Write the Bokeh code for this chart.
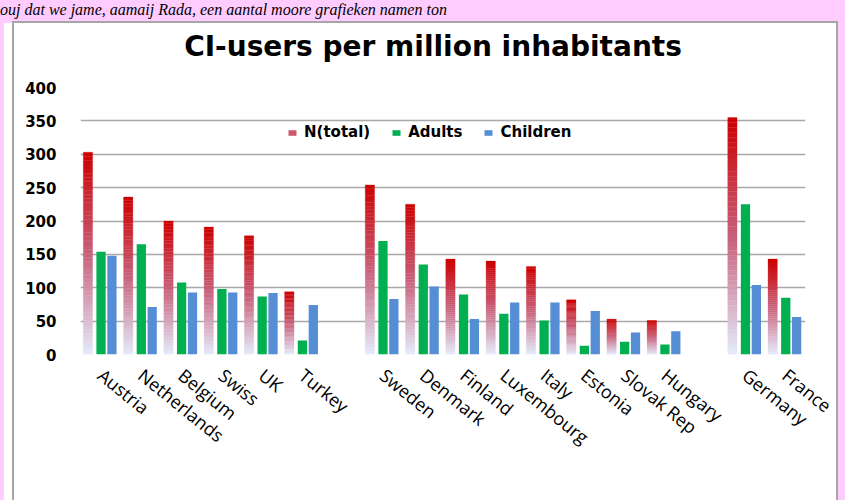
from bokeh.plotting import figure
from bokeh.models import (ColumnDataSource, FactorRange, FixedTicker, Legend,
                          LegendItem, Div)
from bokeh.layouts import column
from bokeh.transform import dodge
from bokeh.embed import file_html
from bokeh.resources import INLINE

# CI-users per million inhabitants, per country
countries = ["Austria", "Netherlands", "Belgium", "Swiss", "UK", "Turkey",
             "Sweden", "Denmark", "Finland", "Luxembourg", "Italy", "Estonia",
             "Slovak Rep", "Hungary", "Germany", "France"]
n_total = [303, 236, 200, 191, 178, 94,
           254, 225, 143, 140, 132, 82, 53, 51,
           355, 143]
adults = [154, 165, 108, 98, 87, 21,
          170, 135, 90, 61, 51, 13, 19, 15,
          225, 85]
children = [148, 71, 93, 93, 92, 74,
            83, 102, 53, 78, 78, 65, 33, 35,
            104, 56]

# three country blocks, separated by an empty slot
block_sizes = [6, 8, 2]
y_ticks = [0, 50, 100, 150, 200, 250, 300, 350, 400]
title_text = "CI-users per million inhabitants"

RED_TOP = (204, 0, 0)
RED_MID = (200, 96, 122)
RED_BOTTOM = (228, 236, 252)
GREEN = "#00B050"
BLUE = "#558ED5"
GRID = "#A9A9A9"

# category slots with spacer factors between the blocks
slots = []
start = 0
for b, size in enumerate(block_sizes):
    if b > 0:
        slots.append(" " * b)
    slots.extend(countries[start:start + size])
    start += size


def mix(c1, c2, t):
    return "#%02x%02x%02x" % tuple(int(round(a + (b - a) * t)) for a, b in zip(c1, c2))


def gradient_colour(t):
    # t = 0 at the top of the bar, 1 at the base
    if t < 0.5:
        return mix(RED_TOP, RED_MID, t / 0.5)
    return mix(RED_MID, RED_BOTTOM, (t - 0.5) / 0.5)


# N(total) bars are split into thin slices to get a vertical colour fade
N_SLICES = 48
sx, sb, st, sc = [], [], [], []
for c, v in zip(countries, n_total):
    for k in range(N_SLICES):
        sx.append(c)
        sb.append(v * k / N_SLICES)
        st.append(v * (k + 1) / N_SLICES)
        sc.append(gradient_colour(1 - (k + 0.5) / N_SLICES))
slice_src = ColumnDataSource(dict(x=sx, bottom=sb, top=st, color=sc))
bar_src = ColumnDataSource(dict(x=countries, adults=adults, children=children))

TITLE_H = 48
p = figure(x_range=FactorRange(factors=slots, range_padding=0),
           y_range=(0, 400), width=822, height=477 - TITLE_H,
           output_backend="svg", toolbar_location=None,
           min_border_left=66, min_border_right=31,
           min_border_top=64 - TITLE_H, min_border_bottom=146,
           background_fill_color="white", border_fill_color="white",
           outline_line_color=None, margin=0)

W = 0.23
p.vbar(x=dodge("x", -0.315, range=p.x_range), bottom="bottom", top="top",
       width=W, fill_color="color", line_color="color", line_width=0.3,
       source=slice_src)
r_ad = p.vbar(x=dodge("x", 0.01, range=p.x_range), top="adults", width=W,
              fill_color=GREEN, line_color=None, source=bar_src)
r_ch = p.vbar(x=dodge("x", 0.28, range=p.x_range), top="children", width=W,
              fill_color=BLUE, line_color=None, source=bar_src)
# zero-height bar that only supplies the N(total) legend swatch
r_nt = p.vbar(x=[countries[0]], top=[0], width=W,
              fill_color="#CD5A6C", line_color=None)

legend = Legend(items=[LegendItem(label="N(total)", renderers=[r_nt]),
                       LegendItem(label="Adults", renderers=[r_ad]),
                       LegendItem(label="Children", renderers=[r_ch])],
                orientation="horizontal", location=(207, 213),
                padding=0, margin=0, spacing=21, label_standoff=7,
                glyph_width=10, glyph_height=7,
                label_text_font="DejaVu Sans", label_text_font_style="bold",
                label_text_font_size="15px", label_text_color="black",
                background_fill_alpha=0, border_line_color=None)
p.add_layout(legend, "center")

p.xgrid.grid_line_color = None
p.ygrid.grid_line_color = GRID
p.ygrid.grid_line_width = 1.6
p.yaxis.ticker = FixedTicker(ticks=y_ticks)
p.yaxis.axis_line_color = None
p.yaxis.major_tick_line_color = None
p.yaxis.minor_tick_line_color = None
p.yaxis.major_label_standoff = 18
p.yaxis.major_label_text_font = "DejaVu Sans"
p.yaxis.major_label_text_font_style = "bold"
p.yaxis.major_label_text_font_size = "15px"
p.yaxis.major_label_text_color = "black"

p.xaxis.axis_line_color = None
p.xaxis.major_tick_line_color = None
p.xaxis.minor_tick_line_color = None
p.xaxis.major_label_orientation = -0.68
p.xaxis.major_label_standoff = 12
p.xaxis.major_label_text_font = "Open Sans"
p.xaxis.major_label_text_font_size = "18px"
p.xaxis.major_label_text_color = "black"

title = Div(text=title_text, width=822, height=TITLE_H, margin=0,
            styles={"font-family": "DejaVu Sans", "font-weight": "bold",
                    "font-size": "28px", "line-height": "48px",
                    "text-align": "center", "color": "black",
                    "padding-left": "16px", "box-sizing": "border-box",
                    "width": "822px", "background-color": "white"})

box = column(title, p, width=822, height=477, spacing=0, margin=(2, 0, 0, 14),
             styles={"background-color": "white",
                     "outline": "2px solid #A6A6A6",
                     "box-shadow": "-10px 0 0 0 #FFFFFF"})

header = Div(text='<div style="white-space:nowrap; '
                  'font: italic 16px/19px \'Liberation Serif\'; color:#000;">'
                  'ouj dat we jame, aamaij Rada, een aantal moore grafieken '
                  'namen ton</div>',
             width=845, height=21, margin=0,
             styles={"overflow": "hidden"})

root = column(header, box, width=845, height=500, margin=0, spacing=0,
              styles={"background-color": "#FFCCFF"})

open("out.html", "w").write(file_html(root, INLINE))
